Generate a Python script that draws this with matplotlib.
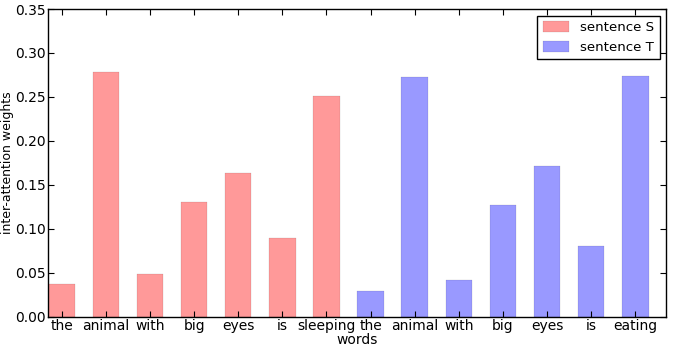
import numpy as np
import matplotlib.pyplot as plt

# words of both sentences
words_s = ['the', 'animal', 'with', 'big', 'eyes', 'is', 'sleeping']
words_t = ['the', 'animal', 'with', 'big', 'eyes', 'is', 'eating']
# inter-attention weights
weights_s = [0.037, 0.278, 0.049, 0.130, 0.163, 0.089, 0.251]
weights_t = [0.029, 0.273, 0.042, 0.127, 0.172, 0.080, 0.274]

plt.rcParams['font.family'] = 'DejaVu Sans'
plt.rcParams['font.size'] = 10

fig = plt.figure(figsize=(6.73, 3.48), dpi=100)
ax = fig.add_axes([0.072, 0.09, 0.918, 0.884])

xs = np.arange(len(words_s))
xt = np.arange(len(words_t)) + len(words_s)
ax.bar(xs, weights_s, width=0.6, color='r', alpha=0.4, edgecolor='k', linewidth=0.15, label='sentence S')
ax.bar(xt, weights_t, width=0.6, color='b', alpha=0.4, edgecolor='k', linewidth=0.15, label='sentence T')

ax.set_xticks(np.concatenate([xs, xt]))
ax.set_xticklabels(words_s + words_t)
ax.set_xlim(-0.3, len(words_s) + len(words_t) - 0.3)
ax.set_ylim(0, 0.35)
ax.set_yticks(np.arange(0, 0.351, 0.05))
ax.set_yticklabels(['%.2f' % v for v in np.arange(0, 0.351, 0.05)])
ax.tick_params(direction='in', top=True, right=True, length=4, width=0.8, pad=2)
ax.set_xlabel('words', labelpad=0)
ax.set_ylabel('inter-attention weights', fontsize=9, labelpad=1)
for s in ax.spines.values():
    s.set_linewidth(1.0)

ax.legend(loc='upper right', fancybox=False, edgecolor='k', framealpha=1,
          fontsize=9.6, borderaxespad=0.5, handlelength=2.0, handleheight=0.9)

fig.savefig('out.png', dpi=100)
